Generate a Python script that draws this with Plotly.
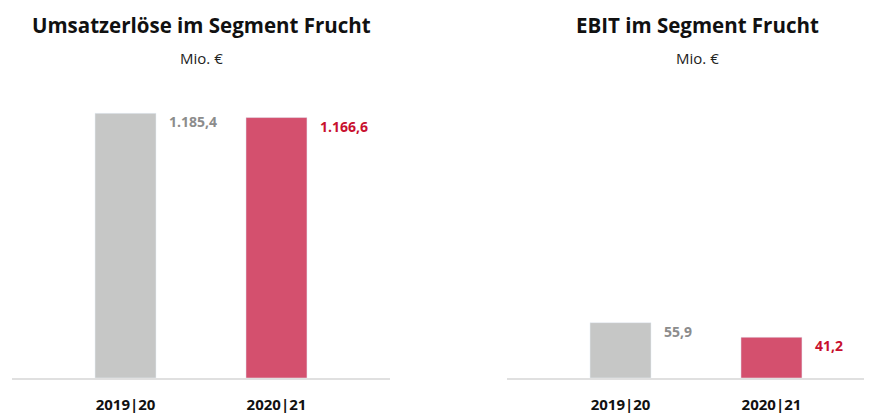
import plotly.graph_objects as go

categories = ["2019|20", "2020|21"]
umsatz_values = [1185.4, 1166.6]
umsatz_labels = ["1.185,4", "1.166,6"]
ebit_values = [55.9, 41.2]
ebit_labels = ["55,9", "41,2"]
bar_colors = ["#c6c7c6", "#d4506e"]
label_colors = ["#8c8c8c", "#c8102e"]
titles = ["Umsatzerlöse im Segment Frucht", "EBIT im Segment Frucht"]
subtitle = "Mio. €"

OFF = 8  # page body margin
W, H = 872 - OFF, 414 - OFF
FONT = "Open Sans"

def px_x(p):
    return (p - OFF) / W

def px_y(p):
    return (H - (p - OFF)) / H

fig = go.Figure()
fig.add_trace(go.Bar(x=categories, y=umsatz_values, marker_color=bar_colors, width=0.404,
                     xaxis="x", yaxis="y", hoverinfo="skip"))
fig.add_trace(go.Bar(x=categories, y=ebit_values, marker_color=bar_colors, width=0.404,
                     xaxis="x2", yaxis="y2", hoverinfo="skip"))

annotations = []
for vals, labs, xr, yr in [(umsatz_values, umsatz_labels, "x", "y"), (ebit_values, ebit_labels, "x2", "y2")]:
    for i, (v, t) in enumerate(zip(vals, labs)):
        annotations.append(dict(x=i + 0.275, y=v, xref=xr, yref=yr, text=f"<b>{t}</b>",
                                showarrow=False, xanchor="left", yanchor="top", yshift=3,
                                font=dict(family=FONT, size=14, color=label_colors[i])))

for cx, t in zip([201, 697], titles):
    annotations.append(dict(x=px_x(cx), y=px_y(25), xref="paper", yref="paper", text=f"<b>{t}</b>",
                            showarrow=False, xanchor="center", yanchor="middle",
                            font=dict(family=FONT, size=20.5, color="#111111")))
    annotations.append(dict(x=px_x(cx), y=px_y(58), xref="paper", yref="paper", text=subtitle,
                            showarrow=False, xanchor="center", yanchor="middle",
                            font=dict(family=FONT, size=15, color="#222222")))

axis_common = dict(type="category", showgrid=False, zeroline=False, showline=True,
                   linecolor="#e0e0e0", linewidth=2, ticks="", ticklabelstandoff=12,
                   tickfont=dict(family=FONT, size=15, color="#111111"), fixedrange=True)

fig.update_layout(
    width=W, height=H, margin=dict(l=0, r=0, t=0, b=0),
    paper_bgcolor="white", plot_bgcolor="white", showlegend=False,
    xaxis=dict(domain=[px_x(12), px_x(390)], range=[-0.752, 1.752], anchor="y",
               tickvals=categories, ticktext=[f"<b>{c}</b>" for c in categories], **axis_common),
    xaxis2=dict(domain=[px_x(507), 1.0], range=[-0.752, 1.666], anchor="y2",
                tickvals=categories, ticktext=[f"<b>{c}</b>" for c in categories], **axis_common),
    yaxis=dict(domain=[px_y(378), px_y(90)], range=[0, 1290], visible=False, fixedrange=True),
    yaxis2=dict(domain=[px_y(378), px_y(90)], range=[0, 291], visible=False, fixedrange=True, anchor="x2"),
    annotations=annotations,
)

fig.write_html("out.html")
